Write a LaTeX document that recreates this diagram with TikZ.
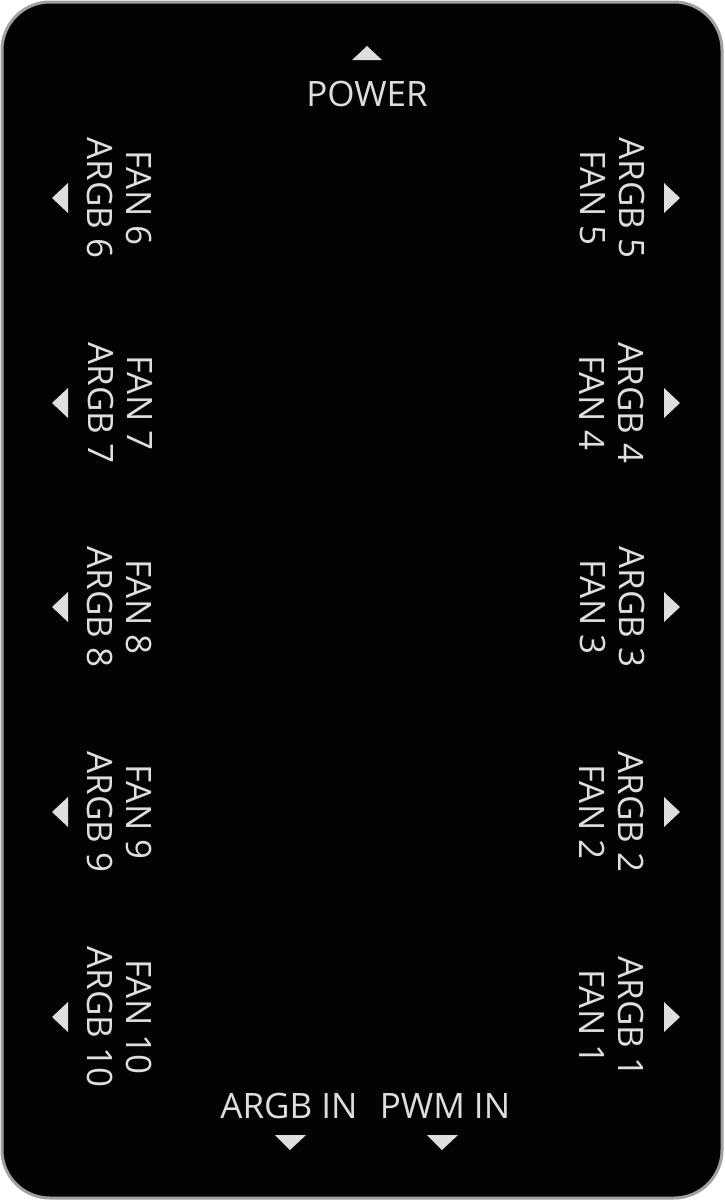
\documentclass[tikz,border=0pt]{standalone}
\usepackage{fontspec}
\setmainfont{Open Sans}
\definecolor{panel}{RGB}{3,3,3}
\definecolor{marking}{RGB}{222,222,222}
\definecolor{rim}{RGB}{160,160,160}

\begin{document}
\begin{tikzpicture}[x=1pt,y=-1pt]
	\tikzset{port/.style={text=marking,font=\fontsize{35}{39}\selectfont,align=center,inner sep=0pt}}
	\useasboundingbox (0,0) rectangle (724,1200);
	\draw[rim,line width=3,fill=panel,rounded corners=48] (2,2) rectangle (722,1198);
	
	\node[port,anchor=base] (power) at (367,106) {POWER};
	\fill[marking] (352,60) -- (382,60) -- (367,46) -- cycle;
	
	\foreach \k/\y in {6/198,7/403,8/607,9/812,10/1017} {
		\node[port,rotate=-90] (fan\k) at (120,\y) {FAN \k\\ARGB \k};
		\fill[marking] (52,\y) -- (68,\y-15) -- (68,\y+15) -- cycle;
	}
	\foreach \k/\y in {5/198,4/403,3/607,2/812,1/1017} {
		\node[port,rotate=-90] (fan\k) at (612,\y) {ARGB \k\\FAN \k};
		\fill[marking] (680,\y) -- (664,\y-15) -- (664,\y+15) -- cycle;
	}
	
	\node[port,anchor=base] (argbin) at (289,1118) {ARGB IN};
	\node[port,anchor=base] (pwmin) at (445,1118) {PWM IN};
	\fill[marking] (275,1135) -- (306,1135) -- (290,1150) -- cycle;
	\fill[marking] (427,1135) -- (458,1135) -- (442,1150) -- cycle;
\end{tikzpicture}
\end{document}
